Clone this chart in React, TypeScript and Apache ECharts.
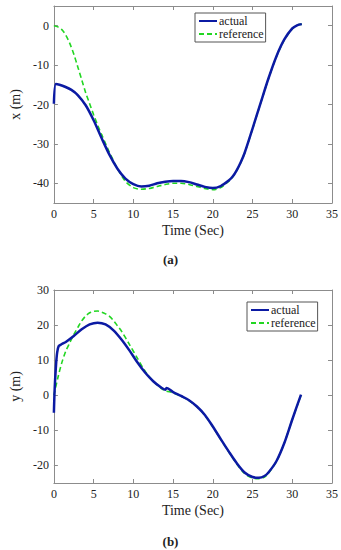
import { useEffect, useRef } from "react";
import * as echarts from "echarts";

// (a) x position
const T_XA = [0, 0.25, 0.7, 1.4, 2.2, 3, 4, 5, 6, 7, 8, 9, 10, 11, 12, 13, 14, 15, 16, 17, 18, 19, 20, 21, 22, 22.5, 23, 23.5, 24, 25, 26, 27, 28, 29, 30, 30.6, 31.2];
const XA = [-19.8, -14.8, -15.0, -15.5, -16.3, -17.6, -20.2, -24.0, -28.5, -32.8, -36.3, -38.8, -40.2, -40.8, -40.6, -40.0, -39.6, -39.4, -39.4, -39.7, -40.3, -40.9, -41.2, -40.7, -39.3, -38.3, -36.7, -34.7, -32.3, -26.1, -19.7, -13.4, -7.8, -3.5, -0.7, 0.1, 0.4];
const T_XR = [0, 0.5, 1, 1.5, 2, 2.5, 3, 3.5, 4, 4.5, 5, 5.5, 6, 6.5, 7, 7.5, 8, 9, 10, 11, 12, 13, 14, 15, 16, 17, 18, 19, 20, 21, 22, 22.5, 23, 23.5, 24, 25, 26, 27, 28, 29, 30, 30.6, 31.2];
const XR = [0, -0.3, -1.0, -2.4, -4.5, -7.2, -10.4, -13.7, -17.0, -19.8, -22.6, -25.2, -27.6, -29.9, -32.2, -34.3, -36.3, -39.5, -41.1, -41.5, -41.3, -40.8, -40.3, -40.0, -40.0, -40.3, -40.8, -41.3, -41.6, -41.1, -39.5, -38.4, -36.8, -34.8, -32.4, -26.2, -19.8, -13.5, -7.9, -3.6, -0.8, 0.1, 0.4];

// (b) y position
const T_YA = [0, 0.1, 0.25, 0.4, 0.6, 1, 1.5, 2.5, 3.5, 4.5, 5.5, 6.5, 7.5, 8.5, 9.5, 10.5, 11.5, 12.5, 13.5, 14, 14.2, 15, 16, 17, 18, 19, 20, 21, 22, 23, 24, 25, 25.8, 26.5, 27, 28, 29, 30, 31.1];
const YA = [-5, 2, 8, 12, 14, 14.6, 15.2, 16.9, 18.8, 20.2, 20.7, 20.2, 18.5, 15.9, 12.8, 9.4, 6.4, 4.0, 2.2, 1.6, 2.1, 0.9, -0.2, -1.4, -3.2, -5.6, -8.9, -12.5, -16.0, -19.3, -22.0, -23.3, -23.5, -23.0, -22.0, -18.8, -13.6, -6.9, 0.2];
const T_YR = [0, 0.5, 1, 1.5, 2, 2.5, 3, 3.5, 4, 4.5, 5, 5.5, 6, 6.5, 7, 7.5, 8, 8.5, 9.5, 10.5, 11.5, 12.5, 13.5, 14, 15, 16, 17, 18, 19, 20, 21, 22, 23, 24, 25, 25.8, 26.5, 27, 28, 29, 30, 31.1];
const YR = [0, 5.0, 9.3, 12.6, 15.0, 17.3, 19.3, 21.2, 22.6, 23.5, 23.9, 24.0, 23.7, 23.2, 22.5, 21.3, 19.8, 18.3, 14.5, 10.6, 6.8, 4.0, 2.0, 1.3, 0.7, -0.3, -1.5, -3.3, -5.7, -9.0, -12.6, -16.1, -19.5, -22.3, -23.6, -23.8, -23.3, -22.2, -18.9, -13.6, -6.9, 0];

const X_TICKS = [0, 5, 10, 15, 20, 25, 30, 35];
const YA_TICKS = [0, -10, -20, -30, -40];
const YB_TICKS = [-20, -10, 0, 10, 20, 30];
const SERIES_NAMES = ["actual", "reference"];
const X_NAME = "Time (Sec)";
const YA_NAME = "x (m)";
const YB_NAME = "y (m)";

const FONT = "Liberation Serif";
const AXIS_GREY = "#8c8c8c";
const BLUE = "#0b1aa3";
const GREEN = "#22d622";

const pairs = (t: number[], v: number[]) => t.map((x, i) => [x, v[i]]);

export default function App() {
  const ref = useRef<HTMLDivElement>(null);
  useEffect(() => {
    if (!ref.current) return;
    const chart = echarts.init(ref.current, null, { renderer: "svg" });

    const xAxisBase = (grid: number, top: boolean) => ({
      type: "value",
      gridIndex: grid,
      position: top ? "top" : "bottom",
      min: 0,
      max: 35,
      interval: 5,
      splitLine: { show: false },
      axisLine: { show: true, onZero: false, lineStyle: { color: AXIS_GREY, width: 1 } },
      axisTick: { show: true, inside: true, length: 4, customValues: X_TICKS, lineStyle: { color: AXIS_GREY } },
      axisLabel: top
        ? { show: false }
        : { show: true, margin: 5, customValues: X_TICKS, color: "#222", fontFamily: FONT, fontSize: 12 },
      name: top ? "" : X_NAME,
      nameLocation: "middle",
      nameGap: 20,
      nameTextStyle: { color: "#222", fontFamily: FONT, fontSize: 14 },
    });

    const yAxisBase = (grid: number, right: boolean, min: number, max: number, ticks: number[], name: string) => ({
      type: "value",
      gridIndex: grid,
      position: right ? "right" : "left",
      min,
      max,
      splitLine: { show: false },
      axisLine: { show: true, onZero: false, lineStyle: { color: AXIS_GREY, width: 1 } },
      axisTick: { show: true, inside: true, length: 4, customValues: ticks, lineStyle: { color: AXIS_GREY } },
      axisLabel: right
        ? { show: false, customValues: ticks }
        : { show: true, margin: 5, customValues: ticks, color: "#222", fontFamily: FONT, fontSize: 12 },
      name: right ? "" : name,
      nameLocation: "middle",
      nameGap: 27,
      nameTextStyle: { color: "#222", fontFamily: FONT, fontSize: 14 },
    });

    const lineSeries = (name: string, xi: number, yi: number, data: number[][], isActual: boolean) => ({
      type: "line",
      name,
      xAxisIndex: xi,
      yAxisIndex: yi,
      data,
      showSymbol: false,
      symbol: "none",
      smooth: 0.3,
      z: isActual ? 3 : 2,
      lineStyle: isActual
        ? { color: BLUE, width: 2.5 }
        : { color: GREEN, width: 1.6, type: [5, 3] },
      itemStyle: { color: isActual ? BLUE : GREEN },
    });

    const legendBase = (left: number, top: number) => ({
      data: SERIES_NAMES,
      orient: "vertical",
      left,
      top,
      itemWidth: 18,
      itemHeight: 10,
      itemGap: 1,
      padding: [2, 2, 2, 3],
      borderColor: "#555",
      borderWidth: 1,
      backgroundColor: "#fff",
      itemStyle: { opacity: 0, color: "transparent", borderWidth: 0 },
      textStyle: { fontFamily: FONT, fontSize: 12, color: "#222", padding: [0, 0, 0, -3] },
    });

    const label = (letter: string, top: number) => ({
      text: "{p|(}{b|" + letter + "}{p|)}",
      left: "center",
      top,
      padding: 0,
      textStyle: {
        rich: {
          p: { fontFamily: FONT, fontSize: 13, color: "#222" },
          b: { fontFamily: FONT, fontSize: 13, fontWeight: "bold", color: "#222" },
        },
      },
    });

    chart.setOption({
      animation: false,
      backgroundColor: "#fff",
      textStyle: { fontFamily: FONT },
      grid: [
        { left: 40, right: 9, top: 6, height: 197 },
        { left: 40, right: 9, top: 290, height: 193 },
      ],
      xAxis: [xAxisBase(0, false), xAxisBase(0, true), xAxisBase(1, false), xAxisBase(1, true)],
      yAxis: [
        yAxisBase(0, false, -45, 5, YA_TICKS, YA_NAME),
        yAxisBase(0, true, -45, 5, YA_TICKS, ""),
        yAxisBase(1, false, -25, 30, YB_TICKS, YB_NAME),
        yAxisBase(1, true, -25, 30, YB_TICKS, ""),
      ],
      legend: [legendBase(195, 13), legendBase(247, 302)],
      title: [label("a", 253), label("b", 535)],
      series: [
        lineSeries(SERIES_NAMES[0], 0, 0, pairs(T_XA, XA), true),
        lineSeries(SERIES_NAMES[1], 0, 0, pairs(T_XR, XR), false),
        lineSeries(SERIES_NAMES[0], 2, 2, pairs(T_YA, YA), true),
        lineSeries(SERIES_NAMES[1], 2, 2, pairs(T_YR, YR), false),
      ],
    });
    return () => chart.dispose();
  }, []);
  return (
    <div
      ref={ref}
      style={{ position: "absolute", left: 0, top: 0, width: 341, height: 550 }}
    />
  );
}
